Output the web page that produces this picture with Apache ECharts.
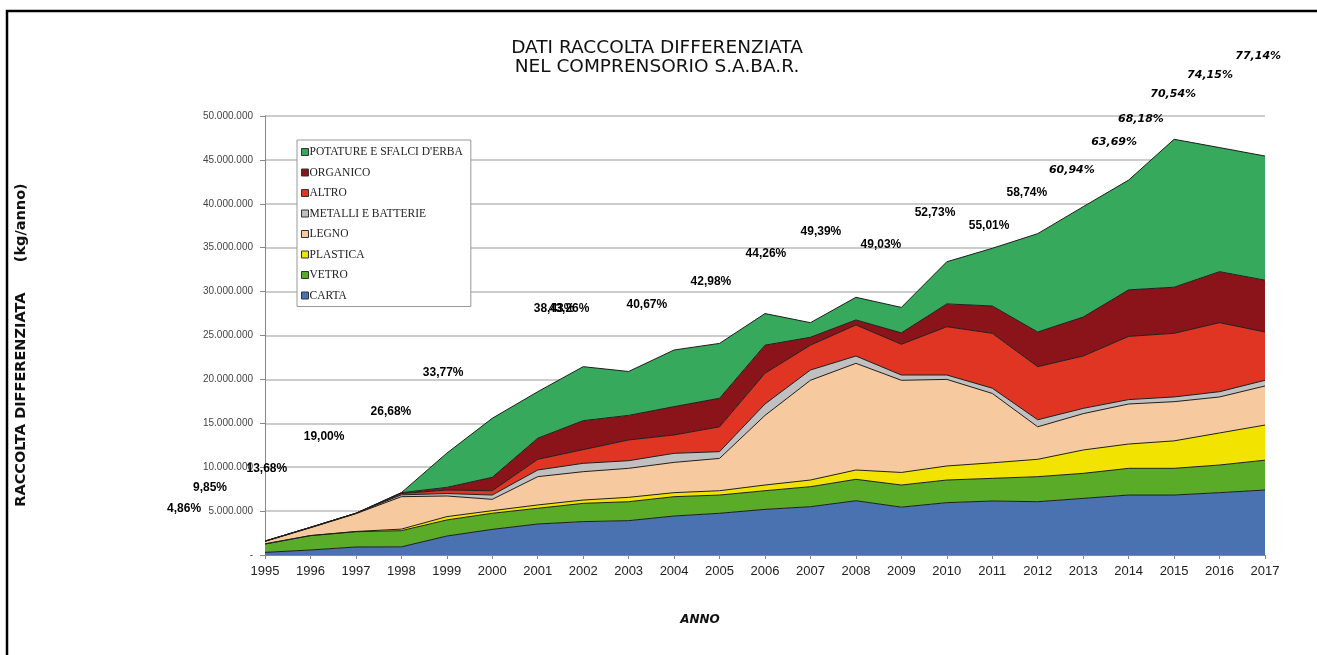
<!DOCTYPE html>
<html><head><meta charset="utf-8">
<script src="https://cdn.jsdelivr.net/npm/echarts@6/dist/echarts.min.js"></script>
<style>html,body{margin:0;padding:0;background:#fff}#c{width:1317px;height:655px}</style>
</head><body><div id="c"></div>
<script>
const years = ['1995','1996','1997','1998','1999','2000','2001','2002','2003','2004','2005','2006','2007','2008','2009','2010','2011','2012','2013','2014','2015','2016','2017'];
const carta    = [300000,570000,910000,930000,2160000,2920000,3530000,3800000,3910000,4440000,4750000,5200000,5500000,6180000,5450000,5960000,6150000,6070000,6450000,6830000,6830000,7100000,7400000];
const vetro    = [950000,1630000,1740000,1840000,1830000,1830000,1790000,2080000,2160000,2200000,2080000,2120000,2280000,2440000,2520000,2580000,2580000,2850000,2850000,3040000,3040000,3150000,3400000];
const plastica = [20000,20000,30000,180000,380000,300000,380000,380000,500000,460000,490000,650000,760000,1060000,1430000,1600000,1770000,1980000,2660000,2770000,3130000,3650000,4000000];
const legno    = [280000,880000,2020000,3690000,2350000,1290000,3220000,3230000,3300000,3450000,3680000,7930000,11360000,12150000,10500000,9860000,7900000,3700000,4140000,4560000,4460000,4100000,4450000];
const metalli  = [30000,50000,50000,210000,280000,490000,760000,950000,870000,1030000,770000,1300000,1170000,830000,600000,500000,600000,800000,600000,500000,540000,600000,650000];
const altro    = [0,0,0,150000,400000,490000,1220000,1560000,2360000,2090000,2830000,3500000,2830000,3540000,3500000,5500000,6250000,6050000,5960000,7200000,7250000,7860000,5500000];
const organico = [0,0,0,100000,300000,1530000,2400000,3300000,2800000,3230000,3250000,3200000,900000,570000,1300000,2600000,3110000,3950000,4440000,5300000,5250000,5810000,5900000];
const potature = [0,0,0,0,3900000,6720000,5300000,6150000,5000000,6450000,6250000,3600000,1660000,2580000,2900000,4800000,6570000,11200000,12570000,12500000,16850000,14130000,14140000];
const percentuali = ['4,86%','9,85%','13,68%','19,00%','26,68%','33,77%','38,43%','43,26%','40,67%','42,98%','44,26%','49,39%','49,03%','52,73%','55,01%','58,74%','60,94%','63,69%','68,18%','70,54%','74,15%','77,14%'];
const yTicks = {min:0, max:50000000, interval:5000000};

// layout: where each percentage annotation sits, in axis units [year, kg]
const pctAnchor = [[1993.22,5.24e6],[1993.79,7.63e6],[1995.04,9.79e6],[1996.30,13.44e6],[1997.77,16.29e6],[1998.92,20.73e6],[2001.36,28.02e6],[2001.69,28.02e6],[2003.40,28.47e6],[2004.81,31.09e6],[2006.02,34.28e6],[2007.23,36.79e6],[2008.55,35.31e6],[2009.74,38.95e6],[2010.93,37.47e6],[2011.76,41.23e6],[2012.75,43.85e6],[2013.68,47.04e6],[2014.27,49.66e6],[2014.98,52.51e6],[2015.79,54.67e6],[2016.85,56.83e6]];

const names = ['CARTA','VETRO','PLASTICA','LEGNO','METALLI E BATTERIE','ALTRO','ORGANICO',"POTATURE E SFALCI D'ERBA"];
const colors = ['#4a72b0','#5aab27','#f2e400','#f6c99e','#c0c0c0','#e03522','#8b141a','#36a95c'];
const values = [carta,vetro,plastica,legno,metalli,altro,organico,potature];

function fmt(v){ return v===0 ? '-' : String(v).replace(/\B(?=(\d{3})+(?!\d))/g,'.'); }

const series = values.map((d,i)=>({
  name:names[i], type:'line', stack:'tot', data:d, symbol:'none',
  color:colors[i],
  lineStyle:{width:1,color:'#1e1e1e'},
  areaStyle:{color:colors[i],opacity:1},
  itemStyle:{color:colors[i]}
}));

series.push({
  type:'scatter', xAxisIndex:1, yAxisIndex:0, symbolSize:0, clip:false, silent:true, z:20,
  itemStyle:{opacity:1, color:'#000'},
  data: percentuali.map((p,i)=>{
    const it = i>=16;
    return {value:pctAnchor[i], name:p, label:{
      fontStyle: it?'italic':'normal',
      fontFamily: it?'DejaVu Sans':'Liberation Sans',
      fontSize: it?11:12
    }};
  }),
  label:{show:true, position:'inside', formatter:p=>p.name, color:'#000', opacity:1,
         fontWeight:'bold', textBorderWidth:0, textBorderColor:'transparent'}
});

const chart = echarts.init(document.getElementById('c'));
chart.setOption({
  animation:false,
  backgroundColor:'#fff',
  title:{
    text:'DATI RACCOLTA DIFFERENZIATA\nNEL COMPRENSORIO S.A.BA.R.',
    left:652, top:34, textAlign:'center',
    textStyle:{fontFamily:'DejaVu Sans, sans-serif', fontWeight:'normal', fontSize:18.5, lineHeight:19, color:'#111'}
  },
  legend:{
    orient:'vertical', left:297, top:140,
    data:names.slice().reverse(),
    icon:'rect', itemWidth:7, itemHeight:7, itemGap:8.5,
    padding:[6,8,5,4],
    backgroundColor:'#fff', borderColor:'#999', borderWidth:1,
    itemStyle:{borderColor:'#333',borderWidth:1},
    textStyle:{fontFamily:'Liberation Serif', fontSize:11.5, color:'#222', lineHeight:11, padding:[0,0,0,-4]},
    selectedMode:false
  },
  grid:{left:265, right:52, top:116, bottom:100, containLabel:false},
  xAxis:[{
    type:'category', data:years, boundaryGap:false,
    axisLine:{lineStyle:{color:'#888'}},
    axisTick:{show:true, length:4, lineStyle:{color:'#888'}},
    axisLabel:{fontFamily:'Liberation Sans', fontSize:13, color:'#222', margin:10}
  },{
    type:'value', min:1995, max:2017, show:false
  }],
  yAxis:{
    type:'value', min:yTicks.min, max:yTicks.max, interval:yTicks.interval,
    axisLine:{show:true, lineStyle:{color:'#888'}},
    axisTick:{show:true, length:5, lineStyle:{color:'#888'}},
    axisLabel:{formatter:fmt, fontFamily:'Liberation Sans', fontSize:10, color:'#444', margin:12},
    splitLine:{lineStyle:{color:'#bbb', width:1.5}}
  },
  graphic:[
    {type:'rect', shape:{x:7,y:11,width:1400,height:700}, style:{fill:'none',stroke:'#000',lineWidth:2.5}, silent:true},
    {type:'text', x:21, y:345, rotation:Math.PI/2, style:{text:'RACCOLTA DIFFERENZIATA      (kg/anno)', fontFamily:'DejaVu Sans', fontWeight:'bold', fontSize:14.5, fill:'#111', textAlign:'center', textVerticalAlign:'middle'}},
    {type:'text', x:700, y:620, style:{text:'ANNO', fontFamily:'DejaVu Sans', fontWeight:'bold', fontStyle:'italic', fontSize:12, fill:'#111', textAlign:'center', textVerticalAlign:'middle'}}
  ],
  series:series
});
</script></body></html>
